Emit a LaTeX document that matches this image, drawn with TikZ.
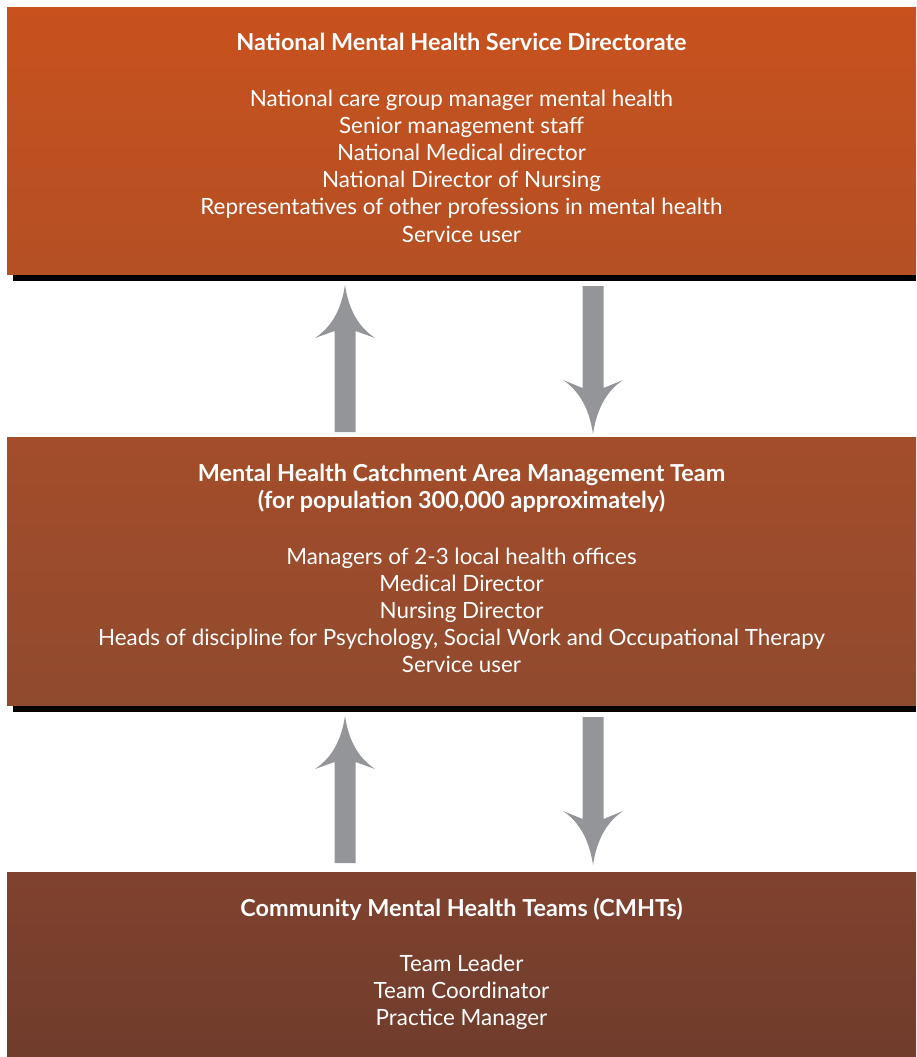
\documentclass[tikz,border=0pt]{standalone}
\usepackage{fontspec}
\setmainfont{Lato}
\begin{document}
\begin{tikzpicture}[x=1pt,y=-1pt,
  box/.style={draw=none,minimum width=909pt,inner sep=0pt,anchor=north west},
  ttl/.style={text=white,font=\fontsize{23.4}{27}\selectfont\bfseries,anchor=base,inner sep=0pt},
  bdy/.style={text=white,font=\fontsize{22.4}{27}\selectfont,anchor=base,inner sep=0pt},
  garrow/.style={fill=arrowgray,draw=none}]
\definecolor{arrowgray}{RGB}{147,149,152}
\useasboundingbox (0,0) rectangle (916,1057);
% shadows
\fill[black] (13,270) rectangle (916,281);
\fill[black] (13,700) rectangle (916,712);
% boxes
\node[box,minimum height=267pt,top color={rgb,255:red,200;green,81;blue,30},bottom color={rgb,255:red,180;green,80;blue,36}] (b1) at (7,7) {};
\node[box,minimum height=268pt,top color={rgb,255:red,164;green,77;blue,42},bottom color={rgb,255:red,144;green,74;blue,46}] (b2) at (7,437) {};
\node[box,minimum height=185pt,top color={rgb,255:red,128;green,66;blue,46},bottom color={rgb,255:red,112;green,60;blue,44}] (b3) at (7,872) {};
% texts box 1
\node[ttl] (t1) at (461.5,51) {National Mental Health Service Directorate};
\foreach \t [count=\i from 0] in {National care group manager mental health,Senior management staff,National Medical director,National Director of Nursing,Representatives of other professions in mental health,Service user}
  \node[bdy] (a\i) at (461.5,106+27.2*\i) {\t};
% texts box 2
\node[ttl] (t2a) at (461.5,481.5) {Mental Health Catchment Area Management Team};
\node[ttl] (t2b) at (461.5,508.5) {(for population 300,000 approximately)};
\foreach \t [count=\i from 0] in {Managers of 2-3 local health offices,Medical Director,Nursing Director,{Heads of discipline for Psychology, Social Work and Occupational Therapy},Service user}
  \node[bdy] (m\i) at (461.5,564+27*\i) {\t};
% texts box 3
\node[ttl] (t3) at (461.5,916.5) {Community Mental Health Teams (CMHTs)};
\foreach \t [count=\i from 0] in {Team Leader,Team Coordinator,Practice Manager}
  \node[bdy] (c\i) at (461.5,971.5+27*\i) {\t};
% arrows
\foreach \dy/\n in {0/1,431/2}{
  \begin{scope}[yshift=-\dy pt]
  \coordinate (up\n) at (345,285);
  \coordinate (dn\n) at (593,434);
  \fill[garrow] (up\n) .. controls (341,312) and (330,328) .. (315,338)
     -- (334.5,331) -- (334.5,432) -- (355.5,432) -- (355.5,331) -- (375,338)
     .. controls (360,328) and (349,312) .. (up\n) -- cycle;
  \fill[garrow] (dn\n) .. controls (589,407) and (578,390) .. (563,380)
     -- (582.5,388) -- (582.5,286) -- (603.5,286) -- (603.5,388) -- (623,380)
     .. controls (608,390) and (597,407) .. (dn\n) -- cycle;
  \end{scope}
}
\end{tikzpicture}
\end{document}
